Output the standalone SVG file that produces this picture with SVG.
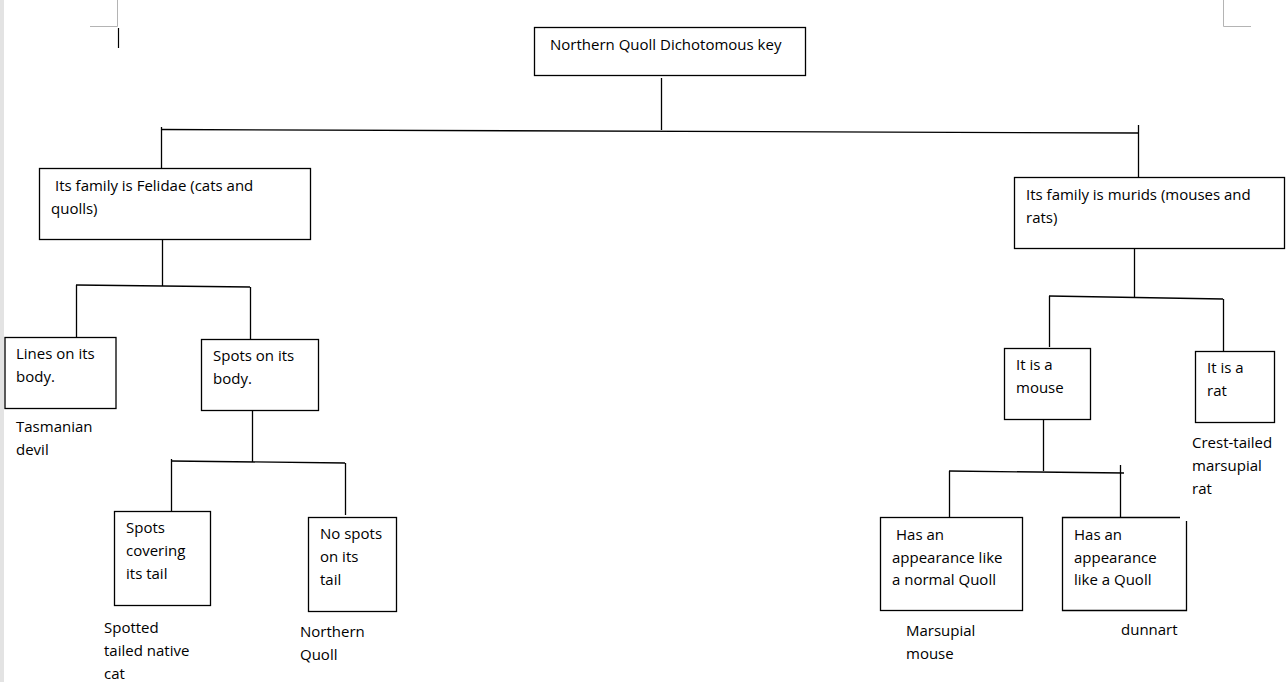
<svg xmlns="http://www.w3.org/2000/svg" width="1288" height="682" viewBox="0 0 1288 682">
<style>
  .box { fill: #ffffff; stroke: #000000; stroke-width: 1.3; }
  .ln { stroke: #000000; stroke-width: 1.3; fill: none; }
  .mark { stroke: #b4b4b4; stroke-width: 1; fill: none; }
  text { font-family: "Open Sans", "Liberation Sans", sans-serif; font-size: 15px; fill: #000000; }
</style>
<rect x="0" y="0" width="1288" height="682" fill="#ffffff"/>
<rect x="0" y="0" width="4" height="682" fill="#e3e3e3"/>
<g id="page-marks">
  <path class="mark" d="M117.5,0 V26.5 H90"/>
  <path class="mark" d="M1223.5,0 V26.5 H1251"/>
  <line x1="118.5" y1="28" x2="118.5" y2="48" stroke="#000" stroke-width="1.2"/>
</g>
<g id="connectors">
  <line class="ln" x1="661.5" y1="78" x2="661.5" y2="130"/>
  <line class="ln" x1="161" y1="129.5" x2="1139" y2="133"/>
  <line class="ln" x1="161.5" y1="127" x2="161.5" y2="168"/>
  <line class="ln" x1="1138.5" y1="125" x2="1138.5" y2="177"/>
  <line class="ln" x1="162.5" y1="239" x2="162.5" y2="286"/>
  <line class="ln" x1="76" y1="285" x2="250" y2="287"/>
  <line class="ln" x1="76.5" y1="285" x2="76.5" y2="337"/>
  <line class="ln" x1="250.5" y1="287" x2="250.5" y2="339"/>
  <line class="ln" x1="252.5" y1="410" x2="252.5" y2="462"/>
  <line class="ln" x1="171" y1="461" x2="345" y2="463"/>
  <line class="ln" x1="171.5" y1="459" x2="171.5" y2="511"/>
  <line class="ln" x1="345.5" y1="463" x2="345.5" y2="515"/>
  <line class="ln" x1="1134.5" y1="248" x2="1134.5" y2="297"/>
  <line class="ln" x1="1049" y1="296" x2="1223" y2="299"/>
  <line class="ln" x1="1049.5" y1="296" x2="1049.5" y2="347"/>
  <line class="ln" x1="1223.5" y1="299" x2="1223.5" y2="351"/>
  <line class="ln" x1="1043.5" y1="419" x2="1043.5" y2="471"/>
  <line class="ln" x1="949" y1="471" x2="1124" y2="473"/>
  <line class="ln" x1="949.5" y1="471" x2="949.5" y2="523"/>
  <line class="ln" x1="1120.5" y1="465" x2="1120.5" y2="517"/>
</g>
<g id="root">
  <rect class="box" x="534.5" y="27.5" width="271" height="48"/>
  <text x="550" y="50">Northern Quoll Dichotomous key</text>
</g>
<g id="felidae">
  <rect class="box" x="39.5" y="168.5" width="271" height="71"/>
  <text x="55" y="191">Its family is Felidae (cats and</text>
  <text x="51" y="214">quolls)</text>
</g>
<g id="murids">
  <rect class="box" x="1014.5" y="177.5" width="270" height="71"/>
  <text x="1026" y="200">Its family is murids (mouses and</text>
  <text x="1026" y="223">rats)</text>
</g>
<g id="lines">
  <rect class="box" x="5" y="337.5" width="111" height="71"/>
  <text x="16" y="359">Lines on its</text>
  <text x="16" y="382">body.</text>
  <text x="16" y="432">Tasmanian</text>
  <text x="16" y="455">devil</text>
</g>
<g id="spots">
  <rect class="box" x="201.5" y="339.5" width="117" height="71"/>
  <text x="213" y="361">Spots on its</text>
  <text x="213" y="384">body.</text>
</g>
<g id="spots-tail">
  <rect class="box" x="114.5" y="511.5" width="96" height="94"/>
  <text x="126" y="533">Spots</text>
  <text x="126" y="556">covering</text>
  <text x="126" y="579">its tail</text>
  <text x="104" y="633">Spotted</text>
  <text x="104" y="656">tailed native</text>
  <text x="104" y="679">cat</text>
</g>
<g id="no-spots">
  <rect class="box" x="308.5" y="517.5" width="88" height="94"/>
  <text x="320" y="539">No spots</text>
  <text x="320" y="562">on its</text>
  <text x="320" y="585">tail</text>
  <text x="300" y="637">Northern</text>
  <text x="300" y="660">Quoll</text>
</g>
<g id="mouse">
  <rect class="box" x="1004.5" y="348.5" width="86" height="71"/>
  <text x="1016" y="370">It is a</text>
  <text x="1016" y="393">mouse</text>
</g>
<g id="rat">
  <rect class="box" x="1195.5" y="351.5" width="79" height="71"/>
  <text x="1207" y="373">It is a</text>
  <text x="1207" y="396">rat</text>
  <text x="1192" y="448">Crest-tailed</text>
  <text x="1192" y="471">marsupial</text>
  <text x="1192" y="494">rat</text>
</g>
<g id="normal-quoll">
  <rect class="box" x="880.5" y="517.5" width="142" height="93"/>
  <text x="896" y="540">Has an</text>
  <text x="892" y="563">appearance like</text>
  <text x="892" y="585">a normal Quoll</text>
  <text x="906" y="636">Marsupial</text>
  <text x="906" y="659">mouse</text>
</g>
<g id="like-quoll">
  <path class="ln" d="M1180,517.5 H1062.5 V610.5 H1186.5 V521"/>
  <text x="1074" y="540">Has an</text>
  <text x="1074" y="563">appearance</text>
  <text x="1074" y="585">like a Quoll</text>
  <text x="1121" y="635">dunnart</text>
</g>
</svg>
